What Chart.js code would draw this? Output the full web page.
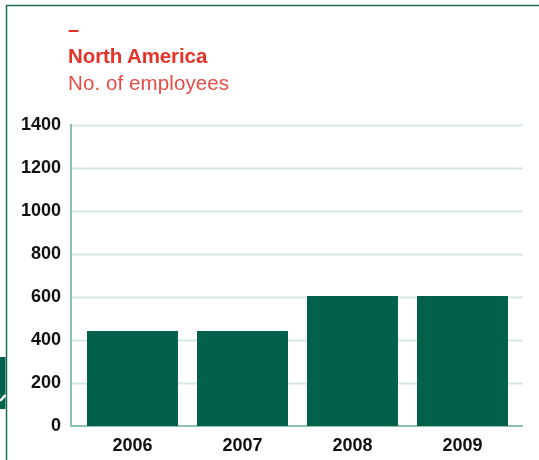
<!DOCTYPE html>
<html>
<head>
<meta charset="utf-8">
<script src="https://cdn.jsdelivr.net/npm/chart.js@4"></script>
<style>
  body { margin: 0; background: #fff; }
  #wrap { position: relative; width: 539px; height: 460px; overflow: hidden; }
  #wrap canvas { position: absolute; left: 0; top: 0; }
  .head { position: absolute; left: 68px; font-family: "Liberation Sans", Arial, sans-serif; white-space: nowrap; }
  #dash { top: 18px; font-size: 20px; font-weight: bold; color: #e5332a; }
  #title { top: 44px; font-size: 20.5px; font-weight: bold; color: #e5332a; letter-spacing: -0.1px; }
  #subtitle { top: 71px; font-size: 20.5px; color: #ea4b46; letter-spacing: 0.1px; }
</style>
</head>
<body>
<div id="wrap">
  <canvas id="employeesChart" width="539" height="460"></canvas>
  <div class="head" id="dash">–</div>
  <div class="head" id="title">North America</div>
  <div class="head" id="subtitle">No. of employees</div>
</div>
<script>
const years = ["2006", "2007", "2008", "2009"];
const employees = [442, 442, 605, 605];
const yMax = 1400;
const yStep = 200;

const barGreen = "#02614b";
const gridGreen = "#d7e8e2";
const axisGreen = "#68ad93";
const frameGreen = "#1d6b55";

// frame lines, the partial mark on the left edge and the extended grid
const decor = {
    id: "decor",
    beforeDatasetsDraw(chart) {
        const { ctx, chartArea, scales } = chart;
        const x0 = chartArea.left - 6.5;
        const x1 = chartArea.right + 5.5;
        ctx.save();
        ctx.lineWidth = 2;
        ctx.strokeStyle = gridGreen;
        scales.y.ticks.forEach((t) => {
            if (t.value === 0) return;
            const y = Math.round(scales.y.getPixelForValue(t.value)) + 0.5;
            ctx.beginPath();
            ctx.moveTo(x0, y);
            ctx.lineTo(x1, y);
            ctx.stroke();
        });
        const yTop = scales.y.getPixelForValue(yMax);
        const yBase = scales.y.getPixelForValue(0);
        ctx.lineWidth = 1.5;
        ctx.strokeStyle = axisGreen;
        ctx.beginPath();
        ctx.moveTo(x0, yTop - 1);
        ctx.lineTo(x0, yBase);
        ctx.lineTo(x1, yBase);
        ctx.stroke();
        ctx.restore();
    },
    afterDraw(chart) {
        const { ctx } = chart;
        ctx.save();
        ctx.strokeStyle = frameGreen;
        ctx.lineWidth = 1.5;
        ctx.beginPath();
        ctx.moveTo(539, 5.5);
        ctx.lineTo(6.5, 5.5);
        ctx.lineTo(6.5, 460);
        ctx.stroke();
        ctx.fillStyle = barGreen;
        ctx.fillRect(0, 357, 5.5, 52);
        ctx.strokeStyle = "#fff";
        ctx.lineWidth = 2.5;
        ctx.beginPath();
        ctx.moveTo(0, 401);
        ctx.lineTo(5.5, 395);
        ctx.stroke();
        ctx.restore();
    },
};

const tickFont = { family: "Liberation Sans", size: 18, weight: "bold" };

new Chart(document.getElementById("employeesChart"), {
    type: "bar",
    data: {
        labels: years,
        datasets: [
            {
                data: employees,
                backgroundColor: barGreen,
                borderWidth: 0,
                categoryPercentage: 1,
                barPercentage: 0.827,
            },
        ],
    },
    options: {
        responsive: false,
        animation: false,
        layout: {
            padding: { left: 17.5, right: 21.5, top: 125, bottom: 0 },
        },
        plugins: {
            legend: { display: false },
            tooltip: { enabled: false },
        },
        scales: {
            x: {
                afterFit(scale) {
                    scale.height = 34;
                },
                grid: { display: false, drawTicks: false },
                border: { display: false },
                ticks: { color: "#111", padding: 9, font: tickFont },
            },
            y: {
                min: 0,
                max: yMax,
                afterFit(scale) {
                    scale.width = 60;
                },
                grid: { display: false, drawTicks: false },
                border: { display: false },
                ticks: {
                    stepSize: yStep,
                    color: "#111",
                    padding: 16.5,
                    font: tickFont,
                    callback: (v) => String(v),
                },
            },
        },
    },
    plugins: [decor],
});
</script>
</body>
</html>
